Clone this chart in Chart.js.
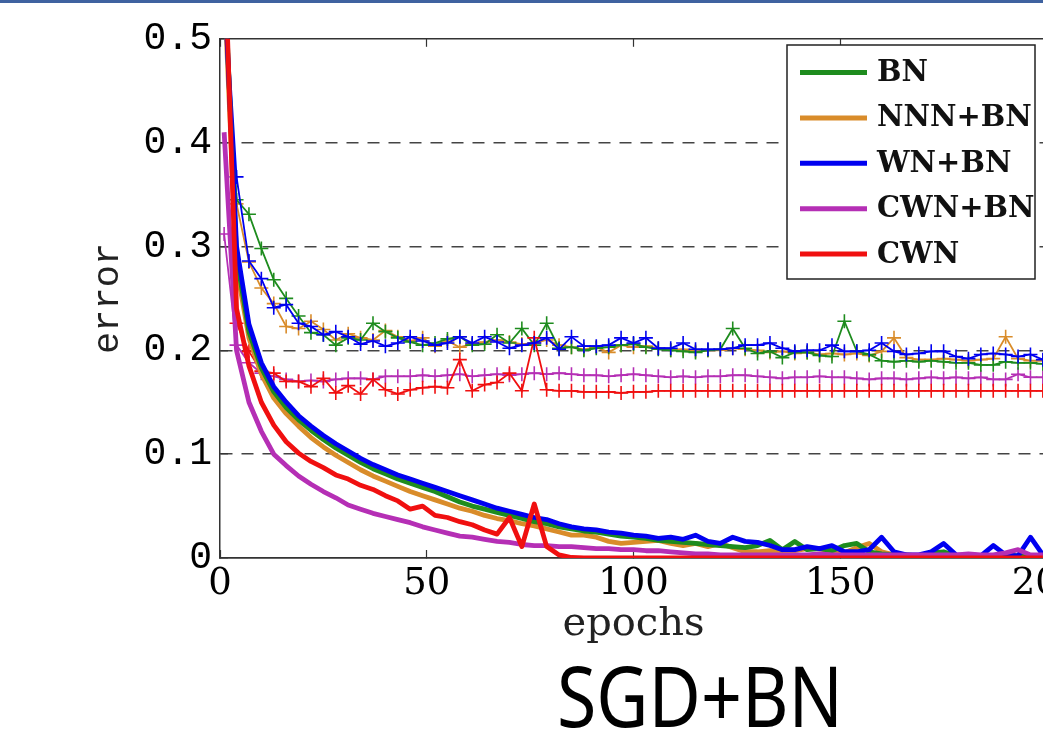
<!DOCTYPE html>
<html><head><meta charset="utf-8">
<script src="https://cdn.jsdelivr.net/npm/chart.js@4.4.0/dist/chart.umd.min.js"></script>
<style>
html,body{margin:0;padding:0;background:#fff;overflow:hidden;width:1043px;height:731px;position:relative;}
#wrap{position:absolute;left:0;top:0;width:1100px;height:731px;}
#topbar{position:absolute;left:0;top:0;width:1043px;height:3px;background:#3f62a0;}
#cap{position:absolute;top:653px;left:557px;font-family:"Noto Sans","Open Sans",sans-serif;font-size:84px;line-height:1;color:#000;white-space:nowrap;transform-origin:0 0;}
</style></head><body>
<div id="wrap"><canvas id="c" width="1100" height="731"></canvas></div>
<div id="topbar"></div>
<div id="cap">SGD+BN</div>
<script>
const epochs = [1,4,7,10,13,16,19,22,25,28,31,34,37,40,43,46,49,52,55,58,61,64,67,70,73,76,79,82,85,88,91,94,97,100,103,106,109,112,115,118,121,124,127,130,133,136,139,142,145,148,151,154,157,160,163,166,169,172,175,178,181,184,187,190,193,196,199];

const seriesNames = ['BN','NNN+BN','WN+BN','CWN+BN','CWN'];
const seriesColors = ['#1e8c1e','#d98c2a','#0000f0','#b52fb5','#f01010'];

const xTickLabels = ['0','50','100','150','200'];
const yTickLabels = ['0','0.1','0.2','0.3','0.4','0.5'];

// training error (thick lines)
const bnTrain = [0.57,0.29,0.218,0.183,0.160,0.145,0.133,0.123,0.114,0.106,
 0.099,0.092,0.086,0.081,0.076,0.072,0.068,0.064,0.059,0.054,
 0.050,0.047,0.044,0.041,0.038,0.035,0.033,0.030,0.028,0.026,
 0.025,0.023,0.021,0.020,0.019,0.017,0.016,0.015,0.014,0.013,
 0.012,0.011,0.010,0.012,0.017,0.008,0.016,0.008,0.009,0.007,
 0.012,0.014,0.006,0.004,0.003,0.003,0.002,0.005,0.006,0.002,
 0.002,0.002,0.002,0.003,0.002,0.002,0.002];
const nnnTrain = [0.55,0.28,0.212,0.177,0.154,0.139,0.127,0.116,0.107,0.099,
 0.092,0.085,0.079,0.074,0.069,0.064,0.060,0.056,0.052,0.048,
 0.045,0.041,0.038,0.036,0.033,0.031,0.028,0.025,0.022,0.022,
 0.020,0.016,0.014,0.015,0.016,0.017,0.014,0.012,0.014,0.011,
 0.014,0.010,0.006,0.006,0.007,0.006,0.007,0.009,0.009,0.006,
 0.005,0.010,0.014,0.006,0.003,0.002,0.002,0.002,0.002,0.002,
 0.001,0.001,0.001,0.001,0.001,0.001,0.001];
const wnTrain = [0.56,0.30,0.225,0.188,0.165,0.150,0.137,0.127,0.118,0.110,
 0.103,0.096,0.090,0.085,0.080,0.076,0.072,0.068,0.064,0.060,
 0.056,0.052,0.048,0.045,0.042,0.039,0.037,0.033,0.030,0.028,
 0.027,0.025,0.024,0.022,0.021,0.019,0.020,0.018,0.022,0.016,
 0.014,0.020,0.016,0.015,0.012,0.008,0.008,0.011,0.009,0.012,
 0.006,0.006,0.008,0.020,0.006,0.003,0.003,0.006,0.014,0.003,
 0.002,0.002,0.012,0.003,0.002,0.020,0.003];
const cwnbnTrain = [0.41,0.20,0.150,0.122,0.100,0.089,0.079,0.071,0.064,0.058,
 0.051,0.047,0.043,0.040,0.037,0.034,0.030,0.027,0.024,0.021,
 0.020,0.018,0.016,0.015,0.013,0.012,0.012,0.011,0.011,0.010,
 0.009,0.009,0.008,0.008,0.007,0.007,0.006,0.005,0.004,0.004,
 0.003,0.003,0.003,0.003,0.003,0.003,0.003,0.003,0.004,0.003,
 0.003,0.003,0.003,0.003,0.003,0.003,0.003,0.003,0.003,0.003,
 0.004,0.003,0.003,0.005,0.008,0.003,0.003];
const cwnTrain = [0.60,0.24,0.185,0.150,0.128,0.112,0.101,0.093,0.087,0.080,
 0.076,0.070,0.066,0.060,0.055,0.047,0.050,0.041,0.039,0.035,
 0.032,0.027,0.023,0.039,0.011,0.052,0.011,0.003,0.0005,0,
 0,0,0,0,0,0,0,0,0,0,
 0,0,0,0,0,0,0,0,0,0,
 0,0,0,0,0,0,0,0,0,0,
 0,0,0,0,0,0,0];

// test error (thin lines with + markers)
const bnTest = [0.56,0.345,0.331,0.298,0.268,0.250,0.233,0.217,0.215,0.205,
 0.212,0.210,0.226,0.218,0.212,0.208,0.205,0.207,0.211,0.213,
 0.205,0.206,0.215,0.207,0.221,0.205,0.226,0.202,0.203,0.200,
 0.202,0.203,0.205,0.206,0.203,0.201,0.200,0.199,0.198,0.200,
 0.201,0.221,0.202,0.197,0.199,0.193,0.198,0.198,0.195,0.194,
 0.228,0.199,0.196,0.190,0.189,0.190,0.189,0.190,0.189,0.188,
 0.188,0.186,0.186,0.189,0.188,0.188,0.187];
const nnnTest = [0.56,0.341,0.285,0.260,0.245,0.223,0.221,0.228,0.220,0.210,
 0.216,0.212,0.210,0.219,0.213,0.209,0.212,0.204,0.209,0.203,
 0.206,0.208,0.210,0.208,0.206,0.207,0.210,0.205,0.203,0.201,
 0.203,0.198,0.205,0.203,0.204,0.202,0.200,0.201,0.199,0.200,
 0.200,0.202,0.201,0.200,0.198,0.199,0.197,0.198,0.196,0.197,
 0.196,0.197,0.195,0.199,0.212,0.193,0.191,0.191,0.192,0.191,
 0.190,0.191,0.192,0.213,0.192,0.190,0.190];
const wnTest = [0.56,0.367,0.286,0.269,0.241,0.244,0.226,0.223,0.215,0.218,
 0.213,0.206,0.209,0.204,0.207,0.213,0.209,0.205,0.207,0.213,
 0.207,0.213,0.208,0.202,0.205,0.207,0.212,0.201,0.213,0.204,
 0.204,0.205,0.212,0.207,0.212,0.202,0.202,0.207,0.201,0.201,
 0.201,0.202,0.205,0.205,0.207,0.202,0.199,0.200,0.200,0.205,
 0.199,0.199,0.200,0.207,0.199,0.196,0.197,0.199,0.199,0.194,
 0.192,0.196,0.197,0.196,0.194,0.196,0.191];
const cwnbnTest = [0.312,0.205,0.188,0.178,0.175,0.172,0.170,0.171,0.170,0.172,
 0.173,0.173,0.172,0.175,0.175,0.175,0.176,0.175,0.176,0.177,
 0.175,0.176,0.177,0.176,0.177,0.178,0.177,0.178,0.177,0.176,
 0.176,0.175,0.176,0.177,0.176,0.175,0.174,0.175,0.174,0.175,
 0.175,0.176,0.176,0.175,0.174,0.173,0.174,0.174,0.175,0.174,
 0.174,0.173,0.172,0.173,0.173,0.172,0.173,0.174,0.173,0.174,
 0.173,0.174,0.172,0.172,0.177,0.174,0.174];
const cwnTest = [0.56,0.226,0.199,0.180,0.178,0.170,0.170,0.165,0.173,0.159,
 0.166,0.158,0.172,0.162,0.158,0.162,0.164,0.165,0.164,0.191,
 0.161,0.167,0.169,0.178,0.161,0.212,0.162,0.161,0.161,0.160,
 0.160,0.160,0.159,0.160,0.160,0.161,0.161,0.161,0.161,0.161,
 0.161,0.161,0.161,0.161,0.161,0.161,0.161,0.161,0.161,0.161,
 0.161,0.161,0.161,0.161,0.161,0.161,0.161,0.161,0.161,0.161,
 0.161,0.161,0.161,0.161,0.161,0.161,0.161];

const toXY = arr => epochs.map((e, i) => ({x: e, y: arr[i]}));

function trainDs(label, arr, color) {
  return {label, data: toXY(arr), borderColor: color, backgroundColor: color,
    borderWidth: 4.8, pointRadius: 0, tension: 0, fill: false, borderJoinStyle: 'round'};
}
function testDs(label, arr, color) {
  return {label, data: toXY(arr), borderColor: color, backgroundColor: color,
    borderWidth: 1.8, pointStyle: 'cross', pointRadius: 7, pointBorderWidth: 1.6,
    pointBorderColor: color, tension: 0, fill: false};
}

// first dataset is drawn on top
const datasets = [
  trainDs('CWN train', cwnTrain, seriesColors[4]),
  trainDs('CWN+BN train', cwnbnTrain, seriesColors[3]),
  trainDs('WN+BN train', wnTrain, seriesColors[2]),
  trainDs('BN train', bnTrain, seriesColors[0]),
  trainDs('NNN+BN train', nnnTrain, seriesColors[1]),
  testDs('WN+BN test', wnTest, seriesColors[2]),
  testDs('CWN test', cwnTest, seriesColors[4]),
  testDs('BN test', bnTest, seriesColors[0]),
  testDs('NNN+BN test', nnnTest, seriesColors[1]),
  testDs('CWN+BN test', cwnbnTest, seriesColors[3])
];

const boxLegend = {
  id: 'boxLegend',
  afterDraw(chart) {
    const ctx = chart.ctx;
    const x0 = 787, y0 = 45, w = 248, h = 234;
    ctx.save();
    ctx.fillStyle = '#fff';
    ctx.fillRect(x0, y0, w, h);
    ctx.strokeStyle = '#222';
    ctx.lineWidth = 1.5;
    ctx.strokeRect(x0, y0, w, h);
    ctx.font = 'bold 29px "DejaVu Serif"';
    ctx.textBaseline = 'middle';
    ctx.textAlign = 'left';
    seriesNames.forEach((name, i) => {
      const y = y0 + 27.5 + i * 45.4;
      ctx.strokeStyle = seriesColors[i];
      ctx.lineWidth = 5;
      ctx.beginPath(); ctx.moveTo(800, y); ctx.lineTo(867, y); ctx.stroke();
      ctx.fillStyle = '#111';
      ctx.fillText(name, 877, y + 1);
    });
    ctx.restore();
  }
};

const isEdge = v => v === 0 || Math.abs(v - 0.5) < 1e-9;

new Chart(document.getElementById('c'), {
  type: 'line',
  data: {datasets},
  plugins: [boxLegend],
  options: {
    responsive: false,
    animation: false,
    devicePixelRatio: 1,
    layout: {padding: {left: 0, top: 35, right: 53, bottom: 0}},
    plugins: {legend: {display: false}, tooltip: {enabled: false}},
    scales: {
      x: {
        type: 'linear', position: 'bottom', min: 0, max: 200,
        ticks: {stepSize: 50, autoSkip: false, maxRotation: 0, padding: 16, color: '#000',
          font: {family: '"DejaVu Serif"', size: 37, lineHeight: 1},
          callback: (v, i) => xTickLabels[i]},
        grid: {drawOnChartArea: false, drawTicks: true, tickLength: -8, tickColor: '#333', tickWidth: 1.2},
        border: {display: true, color: '#333', width: 1.5},
        title: {display: true, text: 'epochs', color: '#222',
          font: {family: '"DejaVu Serif"', size: 40, lineHeight: 1}, padding: {top: 0, bottom: 86}},
        afterFit(s) { s.height = 173; }
      },
      x2: {
        type: 'linear', position: 'top', min: 0, max: 200,
        ticks: {display: false, stepSize: 50},
        grid: {drawOnChartArea: false, drawTicks: true, tickLength: -8, tickColor: '#333', tickWidth: 1.2},
        border: {display: false},
        afterFit(s) { s.height = 0; }
      },
      y: {
        min: 0, max: 0.5,
        ticks: {stepSize: 0.1, padding: 16, color: '#000',
          font: {family: '"Liberation Mono"', size: 38},
          callback: (v, i) => yTickLabels[i]},
        grid: {drawTicks: true, tickLength: -8, tickColor: '#333', tickWidth: 1.2,
          color: c => (c.tick && isEdge(c.tick.value)) ? '#333' : '#444',
          lineWidth: c => (c.tick && isEdge(c.tick.value)) ? 1.5 : 1.6},
        border: {display: true, color: '#333', width: 1.5,
          dash: c => (c.tick && isEdge(c.tick.value)) ? [] : [12, 9]},
        title: {display: true, text: 'error', color: '#222',
          font: {family: '"Liberation Mono"', size: 37, lineHeight: 1}, padding: {top: 90, bottom: 0}},
        afterFit(s) { s.width = 220; }
      }
    }
  }
});

const cap = document.getElementById('cap');
const cw = cap.getBoundingClientRect().width;
cap.style.transform = 'scaleX(' + (286 / cw) + ')';
</script>
</body></html>
